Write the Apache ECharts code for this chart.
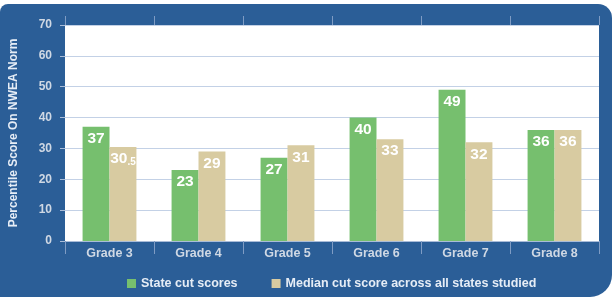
<!DOCTYPE html>
<html><head><meta charset="utf-8">
<script src="https://cdn.jsdelivr.net/npm/echarts@6/dist/echarts.min.js"></script>
<style>html,body{margin:0;padding:0;background:#fff}#c{width:612px;height:297px}</style>
</head><body><div id="c"></div>
<script>
var categories = ['Grade 3','Grade 4','Grade 5','Grade 6','Grade 7','Grade 8'];
var stateCut = [37, 23, 27, 40, 49, 36];
var medianCut = [30.5, 29, 31, 33, 32, 36];
var yTicks = [0,10,20,30,40,50,60,70];
var seriesNames = ['State cut scores','Median cut score across all states studied'];

var FONT = '"Liberation Sans", Arial, sans-serif';
var chart = echarts.init(document.getElementById('c'), null, {renderer:'canvas'});
function labelFmt(p){
  var v = p.value, s = String(v);
  if (s.indexOf('.') >= 0) { var parts = s.split('.'); return '{a|' + parts[0] + '}{b|.' + parts[1] + '}'; }
  return '{a|' + s + '}';
}
var lbl = {
  show: true, position: 'insideTop', distance: 4, formatter: labelFmt,
  rich: {
    a: {color:'#fff', fontSize:15.5, fontWeight:'bold', fontFamily: FONT},
    b: {color:'#fff', fontSize:10, fontWeight:'bold', fontFamily: FONT, verticalAlign:'bottom', padding:[4,0,0,0]}
  }
};
chart.setOption({
  animation: false,
  graphic: [{
    type:'rect', z:-10, silent:true,
    shape:{x:0, y:4, width:612, height:293, r:[8,14,22,0]},
    style:{fill:'#2b5e97'}
  }],
  grid: {left:63, right:13, top:25, bottom:56, show:true, backgroundColor:'#ffffff', borderWidth:0},
  legend: {
    bottom: 2, left: 122, itemWidth: 9, itemHeight: 9, itemGap: 34,
    icon: 'rect',
    textStyle: {color:'#e6edf6', fontSize:12.5, fontWeight:'bold', fontFamily: FONT},
    data: seriesNames
  },
  xAxis: [{
    type:'category', data: categories,
    axisLine:{show:true, lineStyle:{color:'#a9bcd8', width:1}},
    axisTick:{show:true, length:13, lineStyle:{color:'#7f9cc4'}},
    axisLabel:{color:'#cfd8e4', fontSize:12.5, fontWeight:'bold', fontFamily: FONT, margin:6}
  },{
    type:'category', data: categories, position:'top',
    axisLine:{show:false},
    axisTick:{show:true, length:9, lineStyle:{color:'#7f9cc4'}},
    axisLabel:{show:false}
  }],
  yAxis: {
    type:'value', min: yTicks[0], max: yTicks[yTicks.length-1], interval: 10,
    name: 'Percentile Score On NWEA Norm', nameLocation:'middle', nameGap: 45,
    nameTextStyle: {color:'#e6edf6', fontSize:12, fontWeight:'bold', fontFamily: FONT},
    axisLine:{show:false},
    axisTick:{show:true, length:5, lineStyle:{color:'#a9bcd8'}},
    axisLabel:{color:'#cfd8e4', fontSize:12, fontWeight:'bold', fontFamily: FONT, margin:13},
    splitLine:{show:true, lineStyle:{color:'#c3d1e6', width:1}}
  },
  series: [{
    name: seriesNames[0], type:'bar', data: stateCut, barGap:'0%', barCategoryGap:'39.5%',
    itemStyle:{color:'#76bf6e'}, label: lbl
  },{
    name: seriesNames[1], type:'bar', data: medianCut, barGap:'0%', barCategoryGap:'39.5%',
    itemStyle:{color:'#d8cba1'}, label: lbl
  }]
});
</script></body></html>
